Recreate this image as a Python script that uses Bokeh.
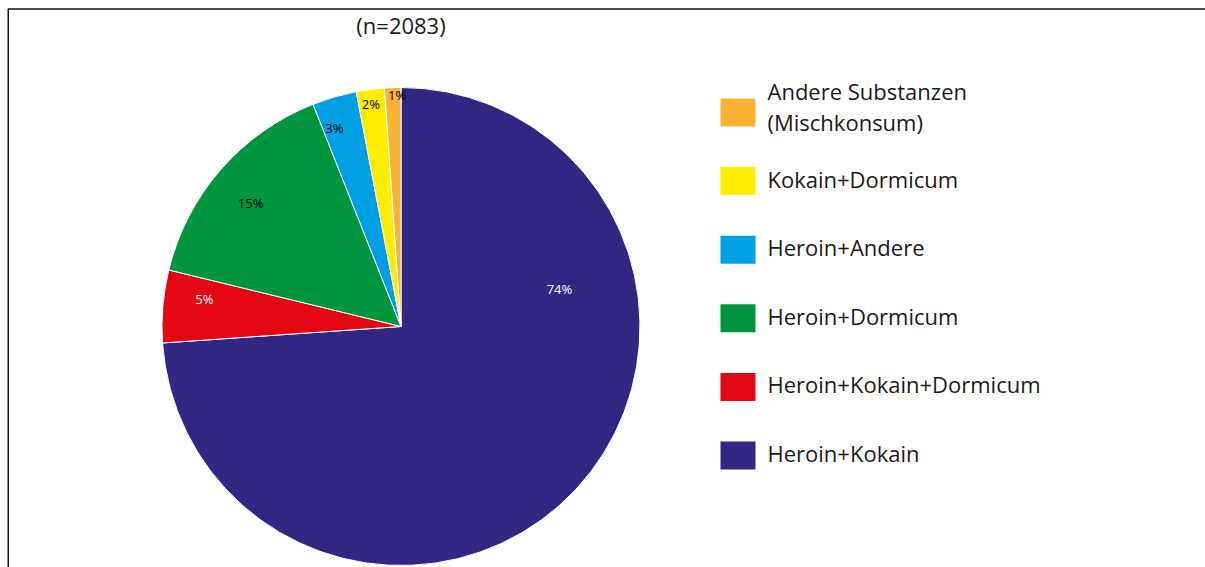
import math
from bokeh.plotting import figure
from bokeh.models import Range1d, BoxAnnotation, ColumnDataSource
from bokeh.core.properties import value
from bokeh.embed import file_html
from bokeh.resources import INLINE

# ---------------- data ----------------
categories = [
    "Heroin+Kokain",
    "Heroin+Kokain+Dormicum",
    "Heroin+Dormicum",
    "Heroin+Andere",
    "Kokain+Dormicum",
    "Andere Substanzen\n(Mischkonsum)",
]
shares = [73.9, 4.9, 15.2, 3.0, 1.9, 1.1]
colors = ["#312783", "#e30613", "#009640", "#009fe3", "#ffed00", "#f9b233"]
label_colors = ["white", "white", "black", "black", "black", "black"]
subtitle = "(n=2083)"

# ---------------- layout ----------------
W, H = 1205, 567
FONT = "Open Sans"


def dy(page_y):
    return H - page_y


cx, cy, R = 400.5, dy(326), 239
# label placement: (radius fraction, angle offset from slice middle, degrees)
label_place = [(0.68, 55.8), (0.83, -2.6), (0.81, 2.0), (0.87, 2.5), (0.93, 0.4), (0.96, -1.0)]

total = sum(shares)
starts, ends, lx, ly, ltext = [], [], [], [], []
cum = 0.0
for i, s in enumerate(shares):
    a_hi = 90 - 360 * cum / total
    a_lo = 90 - 360 * (cum + s) / total
    starts.append(math.radians(a_lo))
    ends.append(math.radians(a_hi))
    mid = (a_lo + a_hi) / 2
    fr, off = label_place[i]
    ang = math.radians(mid + off)
    lx.append(cx + fr * R * math.cos(ang))
    ly.append(cy + fr * R * math.sin(ang) + 2)
    ltext.append(f"{round(s / total * 100)}%")
    cum += s

pie = ColumnDataSource(dict(start=starts, end=ends, color=colors,
                            lx=lx, ly=ly, ltext=ltext, lcolor=label_colors))

p = figure(width=W, height=H, output_backend="svg", toolbar_location=None,
           x_range=Range1d(0, W), y_range=Range1d(0, H),
           min_border=0, background_fill_color="white", border_fill_color="white")
p.axis.visible = False
p.grid.visible = False
p.outline_line_color = None

# frame (only top and left edges fall inside the window)
p.add_layout(BoxAnnotation(left=7.75, top=dy(8.5), right=W + 20, bottom=-20,
                           fill_color=None, fill_alpha=0,
                           line_color="#111111", line_width=1.5, line_alpha=1))

p.wedge(x=cx, y=cy, radius=R, start_angle="start", end_angle="end",
        fill_color="color", line_color="white", line_width=1, source=pie)
p.text(x="lx", y="ly", text="ltext", text_color="lcolor", source=pie,
       text_font=value(FONT), text_font_size="13px",
       text_align="center", text_baseline="middle")

# subtitle
p.text(x=[400.5], y=[dy(24)], text=[subtitle], text_font=value(FONT),
       text_font_size="22px", text_color="#1a1a1a",
       text_align="center", text_baseline="middle")

# legend (reverse order, top = last slice)
n = len(categories)
leg_y = [dy(112 + k * 68.6) for k in range(n)]
leg_src = ColumnDataSource(dict(
    y=leg_y,
    ty=[y + (6 if "\n" in categories[n - 1 - k] else 2.5) for k, y in enumerate(leg_y)],
    color=[colors[n - 1 - k] for k in range(n)],
    label=[categories[n - 1 - k] for k in range(n)],
))
p.rect(x=737.5, y="y", width=35, height=28, fill_color="color", line_color=None, source=leg_src)
p.text(x=767, y="ty", text="label", source=leg_src, text_font=value(FONT),
       text_font_size="22px", text_color="#1a1a1a", text_align="left",
       text_baseline="middle", text_line_height=1.03)

open("out.html", "w").write(file_html(p, INLINE))
